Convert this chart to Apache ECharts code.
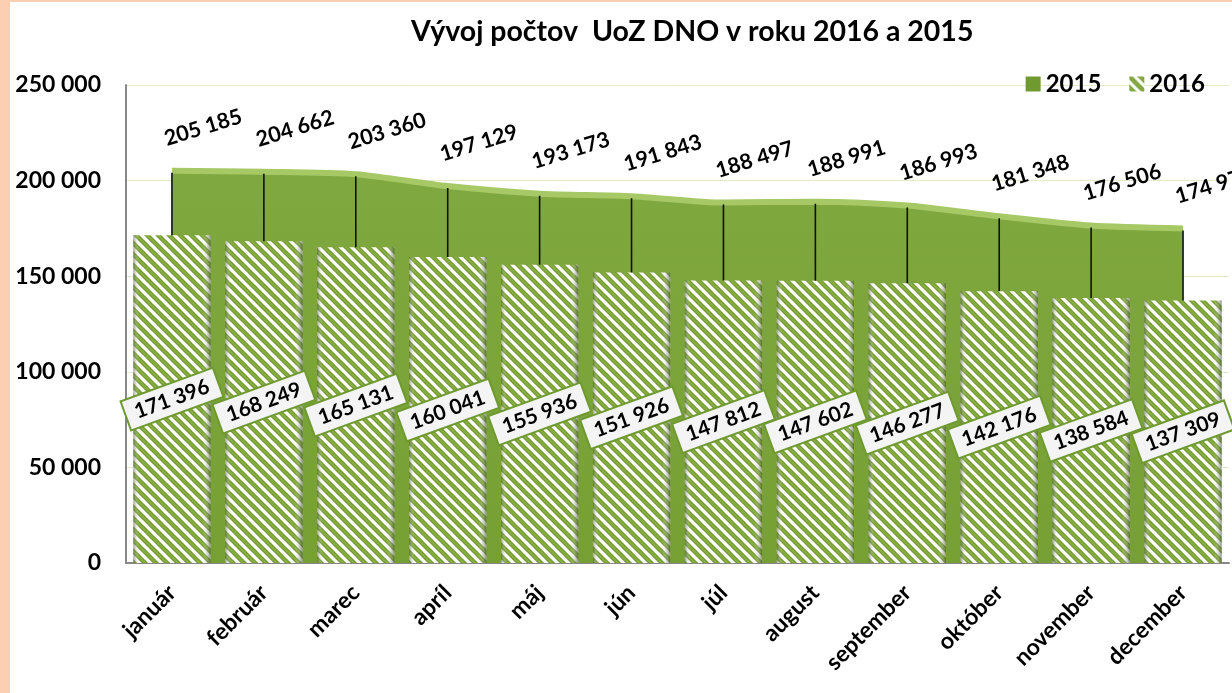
<!DOCTYPE html>
<html><head><meta charset="utf-8">
<script src="https://cdn.jsdelivr.net/npm/echarts@6/dist/echarts.min.js"></script>
<style>
html,body{margin:0;padding:0;background:#fff;}
#wrap{position:relative;width:1232px;height:693px;background:#fff;overflow:hidden;}
#strip{position:absolute;left:0;top:0;width:10px;height:693px;background:#fccfb2;}
#topstrip{position:absolute;left:0;top:0;width:1232px;height:2px;background:#fccfb2;}
#chart{position:absolute;left:0;top:0;width:1232px;height:693px;}
</style></head>
<body>
<div id="wrap"><div id="strip"></div><div id="topstrip"></div><div id="chart"></div></div>
<script>
const categories = ['január','február','marec','apríl','máj','jún','júl','august','september','október','november','december'];
const values2015 = [205185, 204662, 203360, 197129, 193173, 191843, 188497, 188991, 186993, 181348, 176506, 174977];
const values2016 = [171396, 168249, 165131, 160041, 155936, 151926, 147812, 147602, 146277, 142176, 138584, 137309];
const seriesNames = ['2015', '2016'];
const titleText = 'Vývoj počtov  UoZ DNO v roku 2016 a 2015';

function fmt(v){ return String(v).replace(/\B(?=(\d{3})+(?!\d))/g, ' '); }

function stripePattern(){
  const s = 11;
  const c = document.createElement('canvas');
  c.width = s; c.height = s;
  const g = c.getContext('2d');
  g.fillStyle = '#fbfdf5';
  g.fillRect(0,0,s,s);
  for (let k = -1; k <= 1; k++) {
    g.strokeStyle = '#6a8f2c';
    g.lineWidth = 4.4;
    g.beginPath(); g.moveTo(k*s - 2, -2); g.lineTo(k*s + s + 2, s + 2); g.stroke();
    g.strokeStyle = '#86ae3e';
    g.lineWidth = 2.6;
    g.beginPath(); g.moveTo(k*s - 2, -2); g.lineTo(k*s + s + 2, s + 2); g.stroke();
  }
  return c;
}
const pat = stripePattern();

const font = 'Lato, "Open Sans", sans-serif';
const chart = echarts.init(document.getElementById('chart'));
chart.setOption({
  backgroundColor: 'transparent',
  textStyle: {fontFamily: font},
  title: {text: titleText, left: 406, top: 12,
    textStyle: {fontFamily: font, fontWeight: 'bold', fontSize: 28.5, color: '#000'}},
  legend: {data: [{name: seriesNames[0], itemStyle: {color: '#6f9a30'}}, {name: seriesNames[1]}],
    right: 22, top: 67, itemWidth: 15, itemHeight: 15, itemGap: 28,
    icon: 'rect',
    textStyle: {fontFamily: font, fontWeight: 'bold', fontSize: 24, color: '#000'}},
  grid: {left: 126, right: 3, top: 85, bottom: 130},
  xAxis: {type: 'category', data: categories, boundaryGap: true,
    axisLine: {lineStyle: {color: '#888', width: 2}},
    axisTick: {show: false},
    axisLabel: {rotate: 45, fontFamily: font, fontWeight: 'bold', fontSize: 23, color: '#000', margin: 26}},
  yAxis: {type: 'value', min: 0, max: 250000, interval: 50000,
    axisLine: {show: true, lineStyle: {color: '#888', width: 2}},
    axisTick: {show: false},
    splitLine: {show: true, lineStyle: {color: 'rgba(200,215,160,0.5)', width: 1}},
    axisLabel: {formatter: fmt, fontFamily: font, fontWeight: 'bold', fontSize: 23, color: '#000', margin: 25}},
  series: [
    {name: seriesNames[0], type: 'line', data: values2015, smooth: 0.25, symbol: 'circle', symbolSize: 0,
      showSymbol: true, z: 2,
      itemStyle: {color: '#6f9a30'},
      lineStyle: {color: '#a6c966', width: 6},
      areaStyle: {color: {type: 'linear', x: 0, y: 0, x2: 0, y2: 1,
        colorStops: [{offset: 0, color: '#80a840'}, {offset: 1, color: '#76a034'}]}, opacity: 1},
      label: {show: true, position: 'top', distance: 22, offset: [36, 0], rotate: 17,
        formatter: p => fmt(p.value), fontFamily: font, fontWeight: 'bold', fontSize: 21.5, color: '#000'}
    },
    {name: 'drop', type: 'custom', z: 3, silent: true, data: values2015.map((v, i) => [i, v]),
      renderItem: function(params, api){
        const top = api.coord([api.value(0), api.value(1)]);
        const bot = api.coord([api.value(0), 0]);
        return {type: 'line', shape: {x1: top[0], y1: top[1] + 2, x2: bot[0], y2: bot[1]},
          style: {stroke: '#111', lineWidth: 1.6}};
      }},
    {name: seriesNames[1], type: 'bar', data: values2016, barWidth: '84%', z: 4,
      itemStyle: {color: {image: pat, repeat: 'repeat'}}
    },
    {name: 'shade', type: 'bar', data: values2016, barWidth: '84%', barGap: '-100%', z: 5, silent: true,
      itemStyle: {color: {type: 'linear', x: 0, y: 0, x2: 1, y2: 0, colorStops: [
        {offset: 0, color: 'rgba(70,80,60,0.55)'}, {offset: 0.07, color: 'rgba(255,255,255,0)'},
        {offset: 0.9, color: 'rgba(255,255,255,0)'}, {offset: 1, color: 'rgba(60,70,50,0.6)'}]}},
      label: {show: true, position: 'inside', rotate: 20, formatter: p => fmt(p.value),
        backgroundColor: '#f4f4f4', borderColor: '#6f9a30', borderWidth: 2, padding: [5, 9, 3, 9],
        fontFamily: font, fontWeight: 'bold', fontSize: 21, color: '#000'}
    }
  ]
});
</script>
</body></html>
